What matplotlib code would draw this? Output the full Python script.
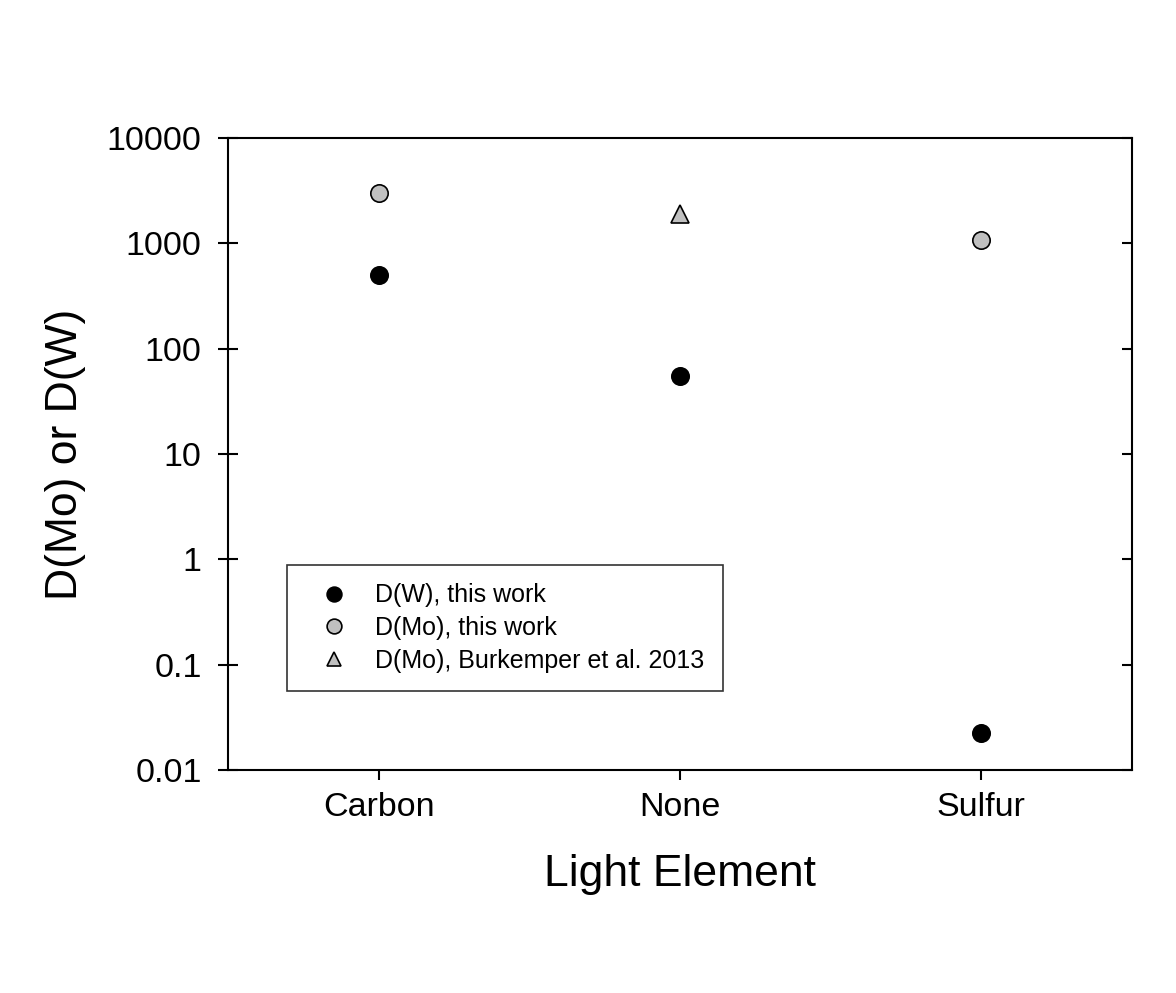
import matplotlib
matplotlib.use("Agg")
import matplotlib.pyplot as plt

plt.rcParams['font.family'] = ['Liberation Sans', 'DejaVu Sans']

# datos
elements = ['Carbon', 'None', 'Sulfur']
d_w = [500, 55, 0.0225]
d_mo = [3000, None, 1080]
burk_labels = ['None']
d_mo_burk = [1900]

y_ticks = [0.01, 0.1, 1, 10, 100, 1000, 10000]
y_tick_labels = ['0.01', '0.1', '1', '10', '100', '1000', '10000']

pos = {e: i + 1 for i, e in enumerate(elements)}

fig = plt.figure(figsize=(11.76, 9.93), dpi=100)
ax = fig.add_axes([0.1939, 0.2246, 0.7687, 0.6364])

xw = [pos[e] for e in elements]
ax.plot(xw, d_w, 'o', ms=12.5, mfc='black', mec='black', mew=1.2,
        label='D(W), this work')
xm = [pos[e] for e, v in zip(elements, d_mo) if v is not None]
ym = [v for v in d_mo if v is not None]
ax.plot(xm, ym, 'o', ms=12.5, mfc='#c0c0c0', mec='black', mew=1.2,
        label='D(Mo), this work')
ax.plot([pos[e] for e in burk_labels], d_mo_burk, '^', ms=12.5,
        mfc='#c0c0c0', mec='black', mew=1.2,
        label='D(Mo), Burkemper et al. 2013')

ax.set_yscale('log')
ax.set_ylim(0.01, 10000)
ax.set_xlim(0.5, 3.5)
ax.set_yticks(y_ticks)
ax.set_yticklabels(y_tick_labels)
ax.yaxis.set_minor_locator(matplotlib.ticker.NullLocator())
ax.set_xticks([pos[e] for e in elements])
ax.set_xticklabels(elements)

for s in ax.spines.values():
    s.set_linewidth(1.5)

ax.tick_params(axis='y', which='major', direction='inout', length=14,
               width=1.5, labelsize=24.5, pad=12, right=False)
ax.tick_params(axis='x', which='major', direction='out', length=7,
               width=1.5, labelsize=24.5, pad=9)
ax2 = ax.twinx()
ax2.set_yscale('log')
ax2.set_ylim(0.01, 10000)
ax2.set_yticks(y_ticks)
ax2.yaxis.set_minor_locator(matplotlib.ticker.NullLocator())
ax2.tick_params(axis='y', direction='in', length=7, width=1.5,
                labelright=False)
for s in ax2.spines.values():
    s.set_visible(False)

ax.set_xlabel('Light Element', fontsize=32, labelpad=22)
ax.set_ylabel('D(Mo) or D(W)', fontsize=32, labelpad=15)

leg = ax.legend(loc='lower left', bbox_to_anchor=(0.065, 0.125, 0.482, 0.204),
                mode='expand', fontsize=18, markerscale=0.85, frameon=True,
                fancybox=False, edgecolor='black', borderpad=0.72,
                labelspacing=0.35, handletextpad=0.49, borderaxespad=0,
                handlelength=2.32)
leg.get_frame().set_linewidth(1.2)

fig.savefig('out.png', dpi=100)
